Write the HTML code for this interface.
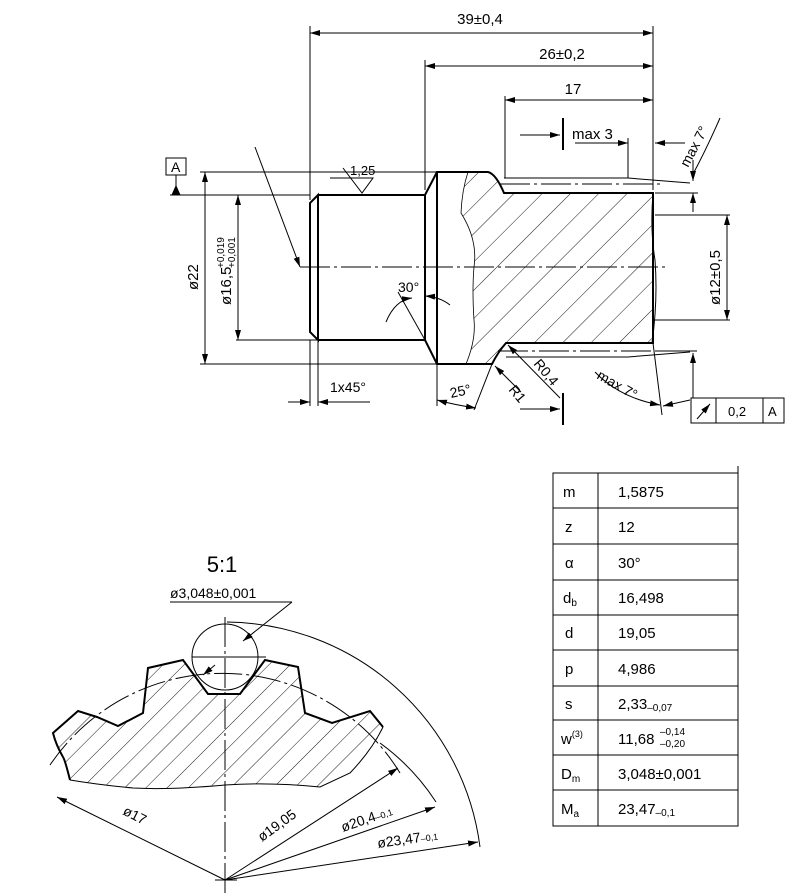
<!DOCTYPE html>
<html><head><meta charset="utf-8"><style>
html,body{margin:0;padding:0;background:#fff}
svg{display:block}
text{font-family:"Liberation Sans",sans-serif;fill:#000}
</style></head><body>
<svg width="788" height="893" viewBox="0 0 788 893" xmlns="http://www.w3.org/2000/svg">
<defs>
<marker id="a" viewBox="0 0 10 6" refX="10" refY="3" markerWidth="10" markerHeight="6" orient="auto-start-reverse" markerUnits="userSpaceOnUse"><path d="M0,0 L10,3 L0,6z" fill="#000"/></marker>
<pattern id="h" patternUnits="userSpaceOnUse" width="20" height="20" patternTransform="rotate(45)"><line x1="0" y1="0" x2="0" y2="20" stroke="#000" stroke-width="0.9"/></pattern>
<pattern id="h2" patternUnits="userSpaceOnUse" width="15" height="15" patternTransform="rotate(45)"><line x1="0" y1="0" x2="0" y2="15" stroke="#000" stroke-width="0.9"/></pattern>
</defs>
<g fill="none" stroke="#000" stroke-width="1">
<!-- hatch region top -->
<path d="M468,172 L488,172 Q496,174 504,193 L653,193 L653,343 L506,343 Q498,352 492,364 L466,364 Q476,340 474,320 Q472,290 474,267 Q478,240 461,213 Q462,190 468,172Z" fill="url(#h)" stroke="none"/>
<path d="M468,172 Q462,190 461,213 Q478,240 474,267 Q472,290 474,320 Q476,340 466,364" stroke-width="0.8"/>
<!-- outline thick -->
<g stroke-width="2">
<path d="M318,195 L425,195 L437,172 L488,172 Q496,174 504,193 L653,193 L653,343 L506,343 Q498,352 492,364 L437,364 L425,340 L318,340"/>
<path d="M318,195 L310,203 L310,332 L318,340 Z"/>
<line x1="425" y1="195" x2="425" y2="340"/>
<line x1="437" y1="172" x2="437" y2="364"/>
</g>
<!-- thread thin lines -->
<path d="M504,178 L628,178 L690,183"/>
<path d="M506,357 L628,357 L690,352"/>
<line x1="500" y1="184" x2="660" y2="184" stroke-dasharray="30,4,3,4"/>
<line x1="498" y1="351" x2="660" y2="351" stroke-dasharray="30,4,3,4"/>
<path d="M653,193 Q650,230 655,260 Q658,300 652,343"/>
<!-- centre line -->
<line x1="300" y1="267" x2="665" y2="267" stroke-dasharray="30,4,3,4"/>
<!-- 39 -->
<line x1="310" y1="26" x2="310" y2="200"/>
<line x1="653" y1="26" x2="653" y2="190"/>
<line x1="310" y1="33" x2="653" y2="33" marker-start="url(#a)" marker-end="url(#a)"/>
<!-- 26 -->
<line x1="425" y1="60" x2="425" y2="190"/>
<line x1="425" y1="66" x2="653" y2="66" marker-start="url(#a)" marker-end="url(#a)"/>
<!-- 17 -->
<line x1="505" y1="96" x2="505" y2="178"/>
<line x1="505" y1="100" x2="653" y2="100" marker-start="url(#a)" marker-end="url(#a)"/>
<!-- max 3 -->
<line x1="520" y1="135" x2="560" y2="135" marker-end="url(#a)"/>
<line x1="563" y1="118" x2="563" y2="150" stroke-width="2"/>
<line x1="575" y1="143" x2="628" y2="143" marker-end="url(#a)"/>
<line x1="628" y1="138" x2="628" y2="178"/>
<line x1="685" y1="143" x2="655" y2="143" marker-end="url(#a)"/>
<!-- max 7 top -->
<path d="M720,118 Q706,150 693,174"/>
<line x1="693" y1="160" x2="693" y2="181" marker-end="url(#a)"/>
<line x1="693" y1="212" x2="693" y2="193" marker-end="url(#a)"/>
<line x1="655" y1="193" x2="698" y2="193"/>
<!-- datum A -->
<rect x="166" y="158" width="20" height="17"/>
<line x1="176" y1="175" x2="176" y2="195"/>
<path d="M172,195 L176,186 L180,195z" fill="#000"/>
<line x1="170" y1="195" x2="310" y2="195"/>
<!-- Ø22 -->
<line x1="200" y1="172" x2="437" y2="172"/>
<line x1="200" y1="364" x2="437" y2="364"/>
<line x1="205" y1="172" x2="205" y2="364" marker-start="url(#a)" marker-end="url(#a)"/>
<!-- Ø16,5 -->
<line x1="238" y1="195" x2="238" y2="340" marker-start="url(#a)" marker-end="url(#a)"/>
<line x1="236" y1="340" x2="318" y2="340"/>
<!-- leader -->
<line x1="255" y1="147" x2="300" y2="267" marker-end="url(#a)"/>
<!-- finish symbol -->
<path d="M343,168 L362,193 L373,178 L330,178" />
<line x1="380" y1="172" x2="425" y2="172"/>
<!-- 30 -->
<path d="M386,322 Q395,300 412,298" marker-end="url(#a)"/>
<path d="M450,305 Q440,297 425,296" marker-end="url(#a)"/>
<line x1="425" y1="340" x2="398" y2="292"/>
<!-- 1x45 -->
<line x1="310" y1="340" x2="310" y2="406"/>
<line x1="318" y1="340" x2="318" y2="406"/>
<line x1="288" y1="402" x2="310" y2="402" marker-end="url(#a)"/>
<line x1="370" y1="402" x2="318" y2="402" marker-end="url(#a)"/>
<!-- 25 -->
<line x1="437" y1="364" x2="437" y2="406"/>
<line x1="492" y1="364" x2="474" y2="410"/>
<path d="M437,400 Q455,405 476,408" marker-start="url(#a)" marker-end="url(#a)"/>
<!-- R leaders -->
<line x1="521" y1="392" x2="495" y2="366" marker-end="url(#a)"/>
<line x1="560" y1="398" x2="508" y2="345" marker-end="url(#a)"/>
<line x1="520" y1="409" x2="560" y2="409" marker-end="url(#a)"/>
<line x1="563" y1="393" x2="563" y2="425" stroke-width="2"/>
<!-- Ø12 -->
<line x1="655" y1="215" x2="730" y2="215"/>
<line x1="655" y1="320" x2="730" y2="320"/>
<line x1="727" y1="215" x2="727" y2="320" marker-start="url(#a)" marker-end="url(#a)"/>
<!-- max 7 bottom -->
<path d="M595,372 Q620,398 660,405" marker-end="url(#a)"/>
<line x1="653" y1="343" x2="662" y2="415"/>
<line x1="690" y1="400" x2="663" y2="406" marker-end="url(#a)"/>
<line x1="655" y1="351" x2="697" y2="351"/>
<line x1="693" y1="398" x2="693" y2="353" marker-end="url(#a)"/>
<!-- runout box -->
<rect x="691" y="398" width="93" height="25"/>
<line x1="716" y1="398" x2="716" y2="423"/>
<line x1="763" y1="398" x2="763" y2="423"/>
<line x1="697" y1="419" x2="710" y2="404" marker-end="url(#a)"/>

<!-- TABLE -->
<rect x="553" y="473" width="185" height="353"/>
<line x1="738" y1="466" x2="738" y2="473"/>
<line x1="598" y1="473" x2="598" y2="826"/>
<g>
<line x1="553" y1="508" x2="738" y2="508"/><line x1="553" y1="544" x2="738" y2="544"/>
<line x1="553" y1="580" x2="738" y2="580"/><line x1="553" y1="615" x2="738" y2="615"/>
<line x1="553" y1="650" x2="738" y2="650"/><line x1="553" y1="686" x2="738" y2="686"/>
<line x1="553" y1="720" x2="738" y2="720"/><line x1="553" y1="755" x2="738" y2="755"/>
<line x1="553" y1="790" x2="738" y2="790"/>
</g>

<!-- GEAR -->
<path d="M53,733 L78,711 L97,717 L118,726 L143,713 L148,668 L183,660 L208,694 L240,694 L265,660 L298,667 L305,713 L332,723 L370,711 L383,727 Q372,750 350,773 L320,787 Q270,782 225,785 Q170,790 133,788 Q100,785 70,780 Q65,760 63,757 Q56,745 53,733Z" fill="url(#h2)" stroke="none"/>
<path d="M70,780 Q65,760 63,757 Q56,745 53,733 L78,711 L97,717 L118,726 L143,713 L148,668 L183,660 L208,694 L240,694 L265,660 L298,667 L305,713 L332,723 L370,711 L383,727" stroke-width="2"/>
<path d="M383,727 Q372,750 350,773 L320,787 Q270,782 225,785 Q170,790 133,788 Q100,785 70,780"/>
<path d="M50,765 A208,208 0 0 1 400,773" stroke-dasharray="28,4,3,4"/>
<circle cx="225" cy="657" r="33"/>
<line x1="192" y1="657" x2="266" y2="657"/>
<line x1="225" y1="617" x2="225" y2="893" stroke-dasharray="30,4,3,4"/>
<line x1="215" y1="880" x2="237" y2="880"/>
<line x1="170" y1="602" x2="292" y2="602"/>
<line x1="292" y1="602" x2="243" y2="641" marker-end="url(#a)"/>
<line x1="215" y1="665" x2="203" y2="675" marker-end="url(#a)"/>
<line x1="225" y1="880" x2="57" y2="797" marker-end="url(#a)"/>
<line x1="225" y1="880" x2="398" y2="768" marker-end="url(#a)"/>
<path d="M380,743 A222,222 0 0 1 436,802"/>
<line x1="225" y1="880" x2="435" y2="807" marker-end="url(#a)"/>
<path d="M227,622 A258,258 0 0 1 480,847"/>
<line x1="225" y1="880" x2="478" y2="842" marker-end="url(#a)"/>
</g>

<!-- TEXT top -->
<g font-size="15">
<text x="480" y="24" text-anchor="middle">39±0,4</text>
<text x="562" y="59" text-anchor="middle">26±0,2</text>
<text x="573" y="94" text-anchor="middle">17</text>
<text x="572" y="139">max  3</text>
<text x="171" y="172" font-size="14">A</text>
<text x="350" y="175" font-size="13">1,25</text>
<text x="398" y="292" font-size="14">30°</text>
<text x="330" y="392" font-size="14">1x45°</text>
<text x="451" y="398" font-size="14" transform="rotate(-12 451 398)">25°</text>
<text x="0" y="0" font-size="14" transform="translate(508,390) rotate(50)">R1</text>
<text x="0" y="0" font-size="14" transform="translate(533,364) rotate(50)">R0,4</text>
<text x="0" y="0" transform="translate(198,290) rotate(-90)">ø22</text>
<text x="0" y="0" transform="translate(231,305) rotate(-90)">ø16,5</text>
<text x="0" y="0" font-size="10" transform="translate(224,268) rotate(-90)">+0,019</text>
<text x="0" y="0" font-size="10" transform="translate(235,268) rotate(-90)">+0,001</text>
<text x="0" y="0" transform="translate(720,305) rotate(-90)">ø12±0,5</text>
<text x="0" y="0" font-size="14" transform="translate(688,168) rotate(-62)">max  7°</text>
<text x="0" y="0" font-size="14" transform="translate(596,378) rotate(30)">max  7°</text>
<text x="728" y="416" font-size="13">0,2</text>
<text x="768" y="416" font-size="13">A</text>
</g>
<!-- table text -->
<g font-size="15">
<text x="563" y="497">m</text><text x="618" y="497">1,5875</text>
<text x="565" y="532">z</text><text x="618" y="532">12</text>
<text x="565" y="568">α</text><text x="618" y="568">30°</text>
<text x="563" y="603">d<tspan font-size="10" dy="3">b</tspan></text><text x="618" y="603">16,498</text>
<text x="565" y="638">d</text><text x="618" y="638">19,05</text>
<text x="565" y="674">p</text><text x="618" y="674">4,986</text>
<text x="565" y="709">s</text><text x="618" y="709">2,33<tspan font-size="10" dy="2">–0,07</tspan></text>
<text x="561" y="744">w<tspan font-size="9" dy="-7">(3)</tspan></text><text x="618" y="744">11,68</text>
<text x="660" y="735" font-size="10">–0,14</text><text x="660" y="747" font-size="10">–0,20</text>
<text x="561" y="779">D<tspan font-size="10" dy="3">m</tspan></text><text x="618" y="779">3,048±0,001</text>
<text x="561" y="814">M<tspan font-size="10" dy="3">a</tspan></text><text x="618" y="814">23,47<tspan font-size="10" dy="2">–0,1</tspan></text>
</g>
<!-- gear text -->
<text x="222" y="572" font-size="22" text-anchor="middle">5:1</text>
<text x="170" y="598" font-size="14">ø3,048±0,001</text>
<text x="0" y="0" font-size="14" transform="translate(122,814) rotate(27)">ø17</text>
<text x="0" y="0" font-size="14" transform="translate(262,842) rotate(-36)">ø19,05</text>
<text x="0" y="0" font-size="14" transform="translate(343,832) rotate(-19)">ø20,4<tspan font-size="9">–0,1</tspan></text>
<text x="0" y="0" font-size="14" transform="translate(378,848) rotate(-8)">ø23,47<tspan font-size="9">–0,1</tspan></text>
</svg>
</body></html>
